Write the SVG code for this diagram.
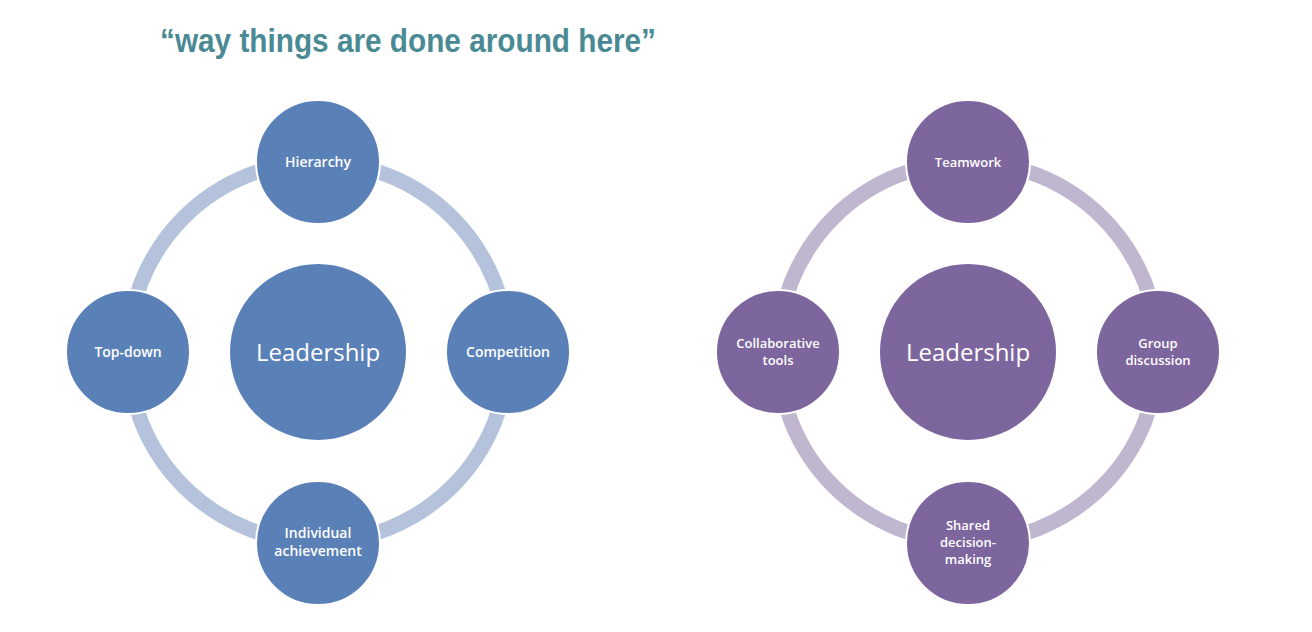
<svg xmlns="http://www.w3.org/2000/svg" width="1312" height="632" viewBox="0 0 1312 632">
<style>
.ringA{fill:none;stroke:#b4c2dc;stroke-width:15}
.ringB{fill:none;stroke:#c0b6cf;stroke-width:15}
.nA{fill:#5a80b8;stroke:#fff;stroke-width:2}
.nB{fill:#7d659e;stroke:#fff;stroke-width:2}
text{font-family:"Open Sans","Liberation Sans",sans-serif;fill:#fff;text-anchor:middle;font-weight:600}
.s{font-size:14px}
.b{font-size:24px;font-weight:500}
.ss{font-size:13px}
</style>
<rect width="1312" height="632" fill="#fff"/>
<text x="408" y="52" style="font-family:'Liberation Sans',sans-serif;font-weight:bold;font-size:34px;fill:#4a8a94" textLength="496" lengthAdjust="spacingAndGlyphs">“way things are done around here”</text>
<g id="connectors">
<circle class="ringA" cx="318" cy="352" r="190"/>
<circle class="ringB" cx="968" cy="352" r="190"/>
</g>
<g id="leadA"><circle class="nA" cx="318" cy="352" r="89"/><text class="b" x="318" y="361">Leadership</text></g>
<g id="hier"><circle class="nA" cx="318" cy="162" r="62"/><text class="s" x="318" y="167">Hierarchy</text></g>
<g id="topdown"><circle class="nA" cx="128" cy="352" r="62"/><text class="s" x="128" y="357">Top-down</text></g>
<g id="comp"><circle class="nA" cx="508" cy="352" r="62"/><text class="s" x="508" y="357">Competition</text></g>
<g id="indiv"><circle class="nA" cx="318" cy="543" r="62"/><text class="s" x="318" y="538">Individual</text><text class="s" x="318" y="556">achievement</text></g>
<g id="leadB"><circle class="nB" cx="968" cy="352" r="89"/><text class="b" x="968" y="361">Leadership</text></g>
<g id="team"><circle class="nB" cx="968" cy="162" r="62"/><text class="ss" x="968" y="167">Teamwork</text></g>
<g id="collab"><circle class="nB" cx="778" cy="352" r="62"/><text class="ss" x="778" y="348">Collaborative</text><text class="ss" x="778" y="365">tools</text></g>
<g id="group"><circle class="nB" cx="1158" cy="352" r="62"/><text class="ss" x="1158" y="348">Group</text><text class="ss" x="1158" y="365">discussion</text></g>
<g id="shared"><circle class="nB" cx="968" cy="543" r="62"/><text class="ss" x="968" y="530">Shared</text><text class="ss" x="968" y="547">decision-</text><text class="ss" x="968" y="564">making</text></g>
</svg>
